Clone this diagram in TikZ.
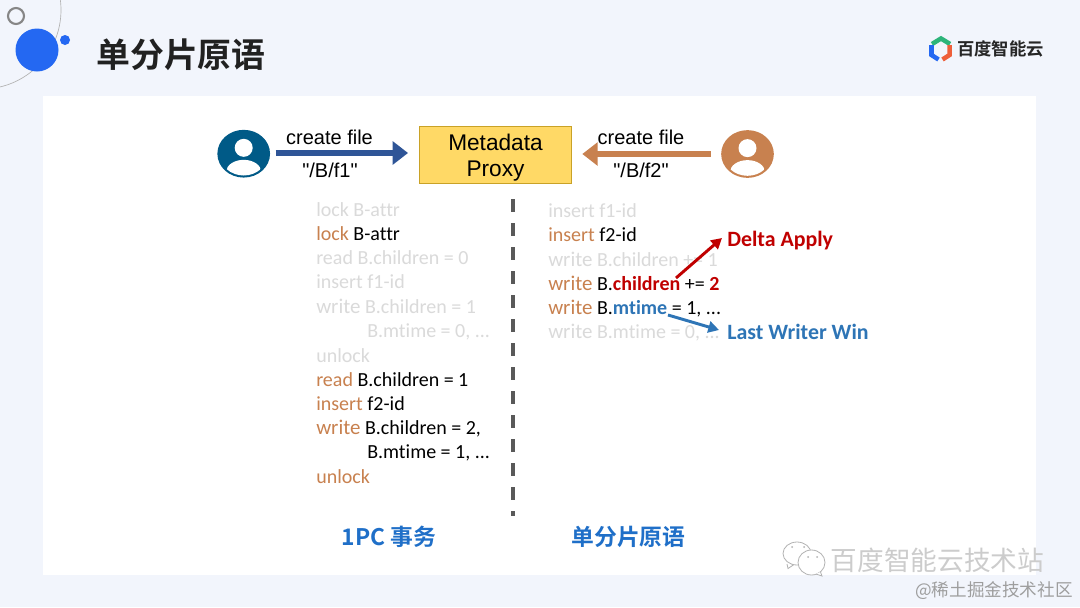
\documentclass[tikz,border=0pt]{standalone}
\usepackage{fontspec}
\setmainfont{Carlito}[Ligatures=NoCommon]
\newfontfamily\arialf{Liberation Sans}
\newfontfamily\cjkf[BoldFont={Noto Sans CJK SC Bold}]{Noto Sans CJK SC}
\usetikzlibrary{arrows.meta,shapes.geometric}
\definecolor{bgc}{HTML}{F2F5FC}
\definecolor{brown}{HTML}{C8814F}
\definecolor{faint}{HTML}{DADADA}
\definecolor{navy}{HTML}{005A87}
\definecolor{arrowblue}{HTML}{2F5597}
\definecolor{hired}{HTML}{C00000}
\definecolor{hiblue}{HTML}{2E75B6}
\definecolor{capblue}{HTML}{1F6FC8}
\definecolor{dotblue}{HTML}{2468F2}
\definecolor{proxyfill}{HTML}{FFD966}
\definecolor{proxyline}{HTML}{C9A227}
\definecolor{logogreen}{HTML}{2DB47A}
\definecolor{logored}{HTML}{EE5F3A}
\newcommand{\br}[1]{\textcolor{brown}{#1}}
\newcommand{\wrt}{{\fontsize{15.7}{15.7}\selectfont write}}
\tikzset{
  code/.style={anchor=base west,inner sep=0pt,font=\fontsize{15}{15}\selectfont,text=black},
  fade/.style={code,text=faint},
  lab/.style={anchor=base,inner sep=0pt,font=\arialf\fontsize{15}{15}\selectfont,text=black},
  callout/.style={anchor=base west,inner sep=0pt,font=\bfseries\fontsize{16.4}{16.4}\selectfont},
  captxt/.style={anchor=center,inner sep=0pt,text=capblue,font=\cjkf\bfseries\fontsize{17.1}{18}\selectfont},
  person/.style={ellipse,minimum width=39.5pt,minimum height=35.8pt,inner sep=0pt,fill=#1},
  bigarrow/.style={line width=5pt,-{Triangle[length=11.5pt,width=17pt]},draw=#1},
  thinarrow/.style={line width=2.2pt,-{Triangle[length=8pt,width=8.5pt]},draw=#1},
  logoseg/.style={line width=3.4pt,line join=miter,draw=#1},
  wechat/.style={draw=black!30,line width=0.6pt,fill=white}
}
\begin{document}
\begin{tikzpicture}[x=0.75pt,y=-0.75pt]
\useasboundingbox (0,0) rectangle (1080,607);
\fill[bgc] (0,0) rectangle (1080,607);
\fill[white] (43,96) rectangle (1036,575);
% decoration
\begin{scope}
\clip (0,0) rectangle (100,100);
\draw[gray!60,line width=0.5pt] (-18,10) circle[radius=79];
\end{scope}
\draw[gray!95,line width=1.6pt] (16,16) circle[radius=8];
\fill[dotblue] (37,50) circle[radius=21.5];
\fill[dotblue] (65,40) circle[radius=5];
\node[anchor=center,inner sep=0pt,text=black!87,font=\cjkf\bfseries\fontsize{25.4}{26}\selectfont] (title) at (181,55) {单分片原语};
% logo
\draw[logoseg=logogreen] (932,44) -- (941,38.5) -- (950,44);
\draw[logoseg=dotblue] (931.5,45) -- (931.5,55) -- (938.5,59.5);
\draw[logoseg=logored] (949.5,45) -- (949.5,55) -- (942.5,59.5);
\node[anchor=center,inner sep=0pt,text=black!85,font=\cjkf\bfseries\fontsize{13}{14}\selectfont] (logotext) at (1000.5,49) {百度智能云};
% users
\node[person=navy] (u1) at (243.7,153.7) {};
\node[person=brown] (u2) at (747.5,154) {};
\foreach \n in {u1,u2}{
  \begin{scope}
    \clip (\n.center) ellipse[x radius=24,y radius=21.8];
    \fill[white] ([yshift=-13.6pt]\n.center) ellipse[x radius=17.5,y radius=12];
  \end{scope}
  \fill[white] ([yshift=4.4pt]\n.center) circle[radius=9];
}
% proxy
\node[draw=proxyline,fill=proxyfill,line width=1.2pt,minimum width=114pt,minimum height=43pt,inner sep=0pt,align=center,font=\arialf\fontsize{17}{19.5}\selectfont] (proxy) at (495.5,155) {\rule{0pt}{17pt}Metadata\\Proxy};
\draw[bigarrow=arrowblue,shorten <=4pt,shorten >=8pt] (u1.east |- 0,153) coordinate (a1) -- (proxy.west |- a1);
\draw[bigarrow=brown,shorten <=7.5pt,shorten >=7.5pt] (u2.west) -- (proxy.east |- u2.west);
\node[lab] (c1) at (329.5,144) {create file};
\node[lab] (p1) at (330,177) {"/B/f1"};
\node[lab] (c2) at (641,144) {create file};
\node[lab] (p2) at (641,177) {"/B/f2"};
% divider
\draw[black!65,line width=2.3pt,dash pattern=on 10pt off 8pt] (513,199) coordinate (d1) -- (513,516) coordinate (d2);
% left code
\node[fade] (l1) at (316,216) {lock B-attr};
\node[code] (l2) at (316,240) {\br{lock} B-attr};
\node[fade] (l3) at (316,264.5) {read B.children = 0};
\node[fade] (l4) at (316,288.5) {insert f1-id};
\node[fade] (l5) at (316,313) {\wrt{} B.children = 1};
\node[fade] (l6) at (367,337) {B.mtime = 0, ...};
\node[fade] (l7) at (316,362) {unlock};
\node[code] (l8) at (316,386) {\br{read} B.children = 1};
\node[code] (l9) at (316,410) {\br{insert} f2-id};
\node[code] (l10) at (316,434) {\br{\wrt} B.children = 2,};
\node[code] (l11) at (367,458) {B.mtime = 1, ...};
\node[code] (l12) at (316,483) {\br{unlock}};
% right code
\node[fade] (r1) at (548,217) {insert f1-id};
\node[code] (r2) at (548,241) {\br{insert} f2-id};
\node[fade] (r3) at (548,266) {\wrt{} B.children += 1};
\node[code] (r4) at (548,290) {\br{\wrt} B.\textcolor{hired}{\textbf{children}} += \textcolor{hired}{\textbf{2}}};
\node[code] (r5) at (548,314) {\br{\wrt} B.\textcolor{hiblue}{\textbf{mtime}} = 1, ...};
\node[fade] (r6) at (548,338.5) {\wrt{} B.mtime = 0, ...};
\node[callout,text=hired] (delta) at (727,246.5) {Delta Apply};
\node[callout,text=hiblue] (lww) at (727,339) {Last Writer Win};
\coordinate (rs) at (676,278);
\coordinate (re) at (722,238);
\coordinate (bs) at (668,315);
\coordinate (be) at (719,330);
\draw[thinarrow=hired] (rs) -- (re);
\draw[thinarrow=hiblue] (bs) -- (be);
% captions
\node[captxt] (cap1) at (389,537) {1PC 事务};
\node[captxt] (cap2) at (628.5,537) {单分片原语};
% watermark
\draw[wechat] (787,564) -- (788,568.5) -- (794,564.5);
\draw[wechat] (797,553.5) ellipse[x radius=14,y radius=11.5];
\fill[black!30] (792,547) circle[radius=1] (804,547) circle[radius=1];
\draw[wechat] (811.5,562.5) ellipse[x radius=13.5,y radius=12.5];
\draw[wechat] (816,574) -- (822,576) -- (820.5,572);
\fill[black!30] (808,557) circle[radius=1] (817,557) circle[radius=1];
\node[anchor=center,inner sep=0pt,text=black!20,font=\cjkf\fontsize{20}{21}\selectfont] (wm1) at (937.5,560) {百度智能云技术站};
\node[anchor=center,inner sep=0pt,text=black!38,font=\cjkf\fontsize{13.2}{14}\selectfont] (wm2) at (994,590.5) {@稀土掘金技术社区};
\end{tikzpicture}
\end{document}
